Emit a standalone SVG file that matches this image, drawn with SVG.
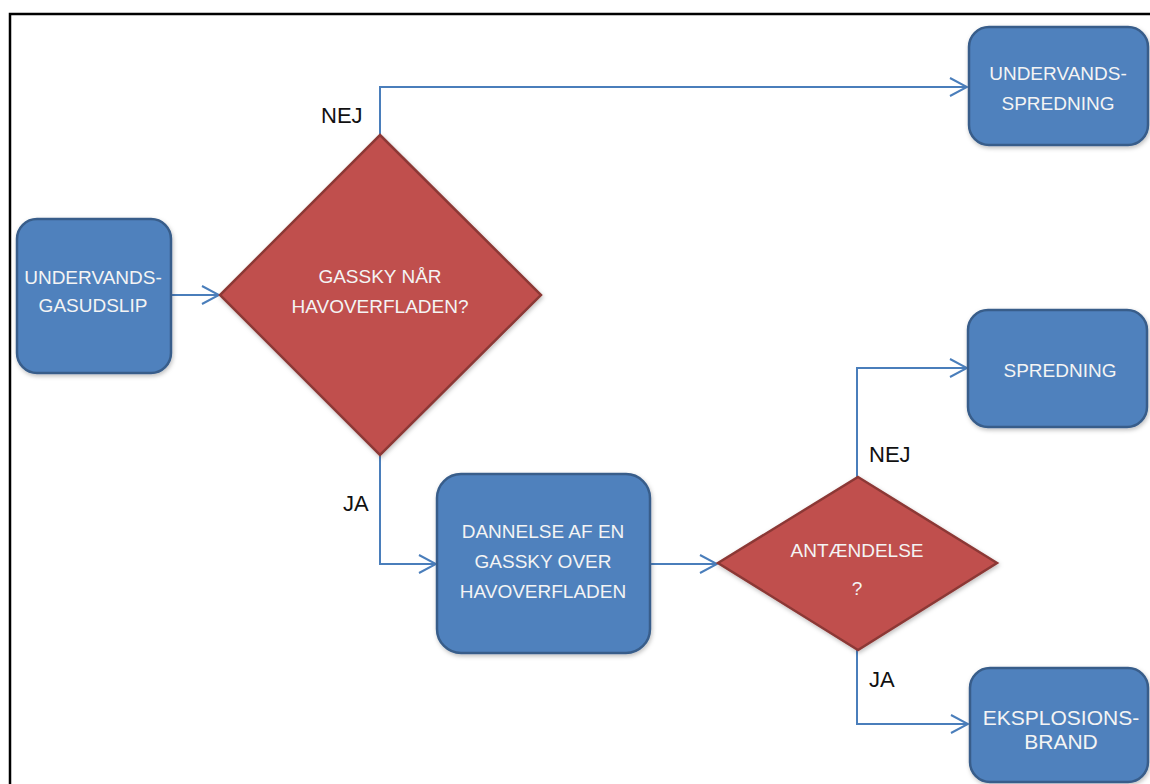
<svg xmlns="http://www.w3.org/2000/svg" width="1150" height="784" viewBox="0 0 1150 784">
  <style>
    .box { fill: #4F81BD; stroke: #385D8A; stroke-width: 2.5; }
    .dia { fill: #C0504D; stroke: #8C3836; stroke-width: 2.5; }
    .conn { fill: none; stroke: #4A7EBB; stroke-width: 2; }
    .nt { font-family: "Liberation Sans", Arial, sans-serif; font-size: 19px; fill: #F4F4F4; text-anchor: middle; }
    .nt2 { font-family: "Liberation Sans", Arial, sans-serif; font-size: 21px; fill: #F4F4F4; text-anchor: middle; }
    .lbl { font-family: "Liberation Sans", Arial, sans-serif; font-size: 22px; fill: #111111; }
  </style>
  <defs>
    <marker id="arr" viewBox="0 0 20 20" refX="18" refY="10" markerWidth="20" markerHeight="20" markerUnits="userSpaceOnUse" orient="auto">
      <path d="M1,1 L18,10 L1,19" fill="none" stroke="#4A7EBB" stroke-width="2"/>
    </marker>
    <filter id="sh" x="-10%" y="-10%" width="130%" height="130%">
      <feDropShadow dx="1" dy="2" stdDeviation="2" flood-color="#000" flood-opacity="0.25"/>
    </filter>
  </defs>
  <rect width="1150" height="784" fill="#FFFFFF"/>
  <rect x="10" y="14" width="1160" height="800" fill="none" stroke="#000" stroke-width="2.5"/>

  <g id="connectors">
    <path class="conn" d="M171,295 L219,295" marker-end="url(#arr)"/>
    <path class="conn" d="M380,135 L380,87 L967,87" marker-end="url(#arr)"/>
    <path class="conn" d="M380,455 L380,564 L436,564" marker-end="url(#arr)"/>
    <path class="conn" d="M650,564 L717,564" marker-end="url(#arr)"/>
    <path class="conn" d="M857,477 L857,368 L967,368" marker-end="url(#arr)"/>
    <path class="conn" d="M857,650 L857,724 L968,724" marker-end="url(#arr)"/>
    <text class="lbl" x="321" y="123">NEJ</text>
    <text class="lbl" x="343" y="511">JA</text>
    <text class="lbl" x="869" y="462">NEJ</text>
    <text class="lbl" x="869" y="687">JA</text>
  </g>

  <g id="n-gasudslip">
    <rect class="box" x="17" y="219" width="154" height="154" rx="20" filter="url(#sh)"/>
    <text class="nt" x="93" y="284">UNDERVANDS-</text>
    <text class="nt" x="93" y="312">GASUDSLIP</text>
  </g>

  <g id="n-gassky">
    <polygon class="dia" points="380,135 541,295 380,455 220,295" filter="url(#sh)"/>
    <text class="nt" x="380" y="283">GASSKY NÅR</text>
    <text class="nt" x="380" y="313">HAVOVERFLADEN?</text>
  </g>

  <g id="n-undervandsspredning">
    <rect class="box" x="969" y="27" width="179" height="118" rx="20" filter="url(#sh)"/>
    <text class="nt" x="1058" y="80">UNDERVANDS-</text>
    <text class="nt" x="1058" y="110">SPREDNING</text>
  </g>

  <g id="n-dannelse">
    <rect class="box" x="437" y="474" width="213" height="179" rx="24" filter="url(#sh)"/>
    <text class="nt" x="543" y="538">DANNELSE AF EN</text>
    <text class="nt" x="543" y="568">GASSKY OVER</text>
    <text class="nt" x="543" y="598">HAVOVERFLADEN</text>
  </g>

  <g id="n-antaendelse">
    <polygon class="dia" points="858,477 997,563 858,650 718,563" filter="url(#sh)"/>
    <text class="nt" x="857" y="557">ANTÆNDELSE</text>
    <text class="nt" x="857" y="595">?</text>
  </g>

  <g id="n-spredning">
    <rect class="box" x="968" y="310" width="179" height="117" rx="20" filter="url(#sh)"/>
    <text class="nt" x="1060" y="377">SPREDNING</text>
  </g>

  <g id="n-eksplosion">
    <rect class="box" x="970" y="668" width="178" height="114" rx="20" filter="url(#sh)"/>
    <text class="nt2" x="1061" y="725">EKSPLOSIONS-</text>
    <text class="nt2" x="1061" y="749">BRAND</text>
  </g>
</svg>
